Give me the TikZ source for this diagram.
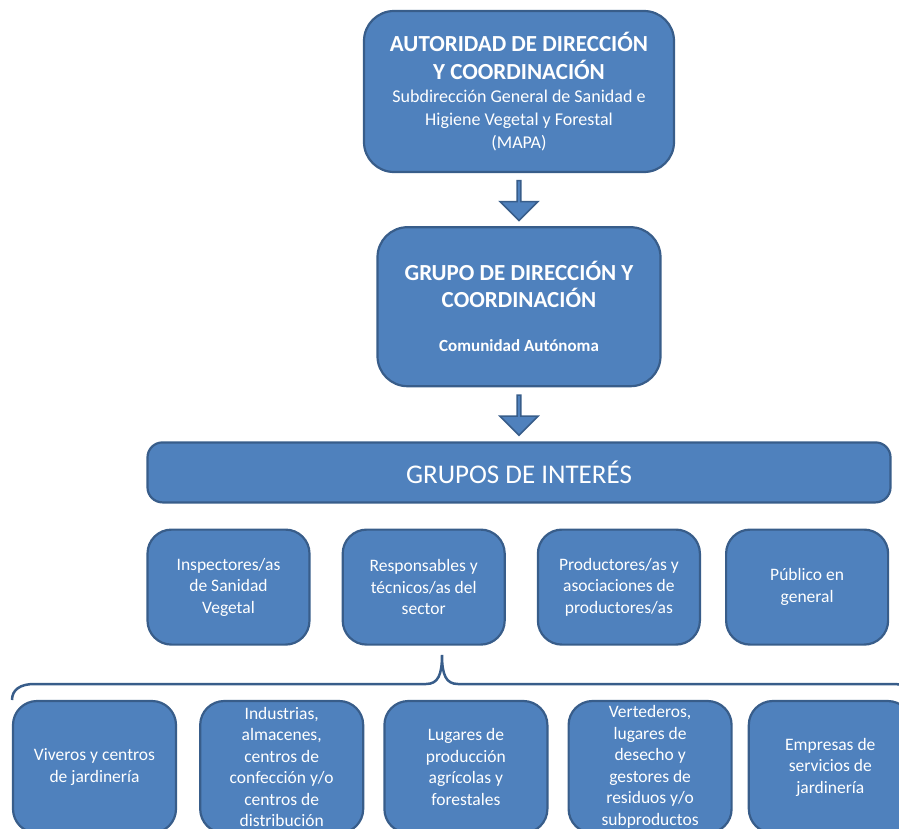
\documentclass[tikz,border=0pt]{standalone}
\usepackage{fontspec}
\setmainfont{Carlito}
\usetikzlibrary{positioning,calc,shapes.arrows}
\definecolor{boxblue}{RGB}{79,129,189}
\definecolor{edgeblue}{RGB}{56,93,138}

\begin{document}
\begin{tikzpicture}[x=1pt, y=-1pt, line width=2.2pt,
    box/.style = {draw=edgeblue, fill=boxblue, text=white, align=center, inner sep=2pt},
    small/.style = {box, rounded corners=24pt, minimum width=162pt, minimum height=115pt, font=\fontsize{17.5}{21.5}\selectfont},
    low/.style = {small, minimum width=163pt, minimum height=132pt},
    downarrow/.style = {draw=edgeblue, fill=boxblue, line width=1.5pt, single arrow, shape border rotate=270, minimum height=40pt, minimum width=38pt, single arrow head extend=7pt, inner sep=0pt}]
    \path[use as bounding box, clip] (0,0) rectangle (899,828);

    \node[box, rounded corners=30pt, minimum width=310pt, minimum height=161pt, font=\fontsize{18}{23}\selectfont] (autoridad) at (519,91.5)
        {{\bfseries\fontsize{23}{23}\selectfont AUTORIDAD DE DIRECCIÓN}\\[5pt]
         {\bfseries\fontsize{23}{23}\selectfont Y COORDINACIÓN}\\
         Subdirección General de Sanidad e\\ Higiene Vegetal y Forestal\\ (MAPA)};
    \node[box, rounded corners=30pt, minimum width=283pt, minimum height=159pt, font=\bfseries\fontsize{23}{27}\selectfont] (grupo) [below=53pt of autoridad]
        {GRUPO DE DIRECCIÓN Y\\ COORDINACIÓN\\[17pt] {\fontsize{17}{17}\selectfont Comunidad Autónoma}};
    \node[box, rounded corners=15pt, minimum width=743pt, minimum height=60pt, font=\fontsize{27}{27}\selectfont] (interes) [below=54pt of grupo] {GRUPOS DE INTERÉS};

    \node[downarrow] (flechaA) at ($(autoridad.south)!0.5!(grupo.north)$) {};
    \node[downarrow] (flechaB) at ($(grupo.south)!0.5!(interes.north)$) {};

    \node[small] (inspectores) [below right=25pt and 0pt of interes.south west] {Inspectores/as\\ de Sanidad\\ Vegetal};
    \node[small] (responsables) [right=31pt of inspectores] {Responsables y\\ técnicos/as del\\ sector};
    \node[small] (productores) [right=31pt of responsables] {Productores/as y\\ asociaciones de\\ productores/as};
    \node[small] (publico) [right=24pt of productores] {Público en\\ general};

    \draw[edgeblue, line width=2.5pt] (12,700) .. controls (12,690) and (20,684) .. (34,684) -- (426,684)
        .. controls (438,684) and (442,675) .. (442,655) .. controls (442,675) and (446,684) .. (458,684)
        -- (893,684) .. controls (907,684) and (915,690) .. (915,700);

    \node[low] (viveros) at (94.5,767) {Viveros y centros\\ de jardinería};
    \node[low] (industrias) [right=22pt of viveros] {Industrias,\\ almacenes,\\ centros de\\ confección y/o\\ centros de\\ distribución};
    \node[low] (lugares) [right=19pt of industrias] {Lugares de\\ producción\\ agrícolas y\\ forestales};
    \node[low] (vertederos) [right=19pt of lugares] {Vertederos,\\ lugares de\\ desecho y\\ gestores de\\ residuos y/o\\ subproductos};
    \node[low] (empresas) [right=15pt of vertederos] {Empresas de\\ servicios de\\ jardinería};
\end{tikzpicture}
\end{document}
